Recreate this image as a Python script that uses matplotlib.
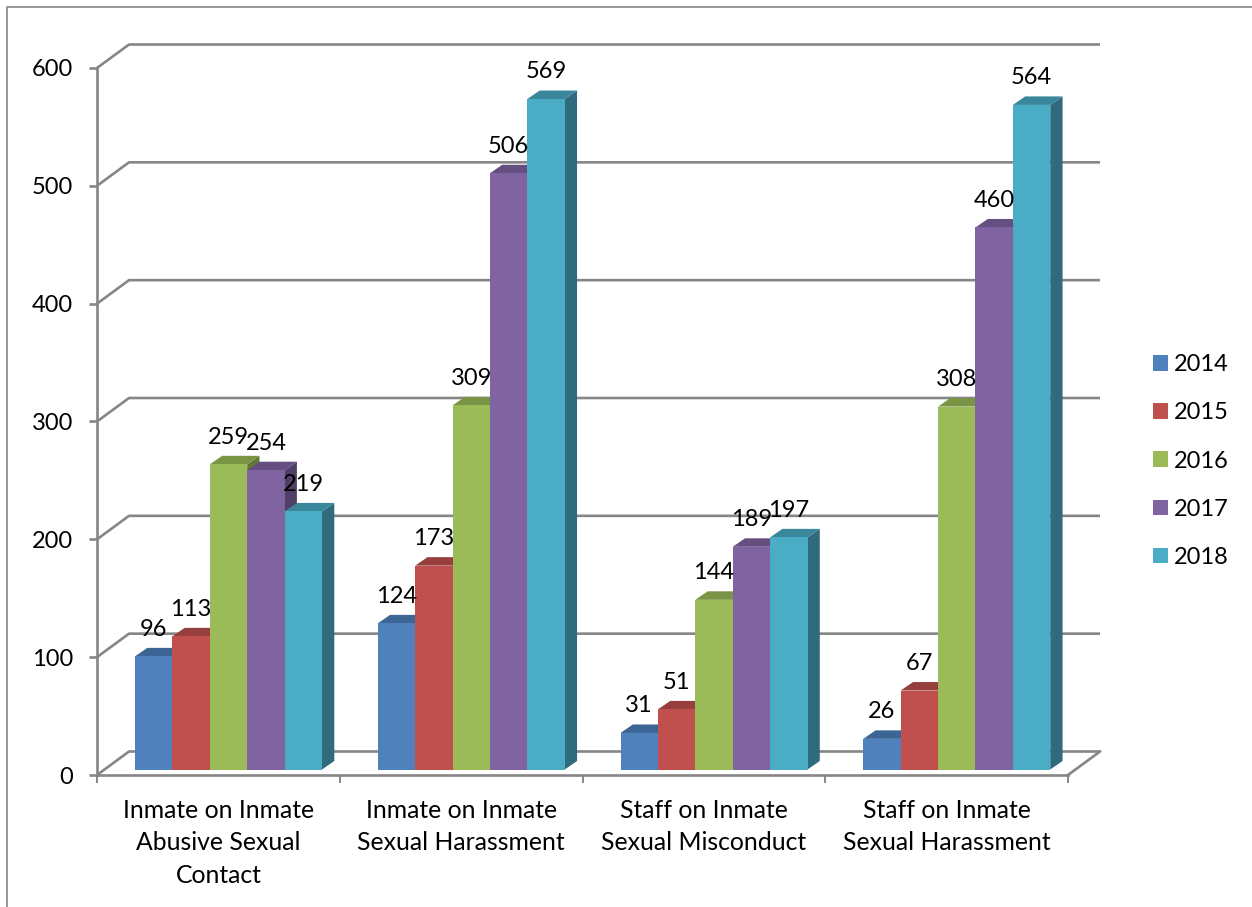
import matplotlib
matplotlib.use('Agg')
import matplotlib.pyplot as plt
from matplotlib.lines import Line2D
from matplotlib.patches import Polygon

plt.rcParams['font.family'] = ['Lato', 'DejaVu Sans']

categories = ['Inmate on Inmate\nAbusive Sexual\nContact',
              'Inmate on Inmate\nSexual Harassment',
              'Staff on Inmate\nSexual Misconduct',
              'Staff on Inmate\nSexual Harassment']
years = ['2014', '2015', '2016', '2017', '2018']
v2014 = [96, 124, 31, 26]
v2015 = [113, 173, 51, 67]
v2016 = [259, 309, 144, 308]
v2017 = [254, 506, 189, 460]
v2018 = [219, 569, 197, 564]
series = [v2014, v2015, v2016, v2017, v2018]
y_ticks = [0, 100, 200, 300, 400, 500, 600]

front = ['#4F81BD', '#C0504D', '#9BBB59', '#8064A2', '#4BACC6']
top = ['#3C6596', '#963F3C', '#7A9446', '#654F80', '#3A879C']
side = ['#325078', '#78322F', '#617638', '#503F66', '#2F6B7C']
grey = '#868686'

W, H = 1252, 907
fig = plt.figure(figsize=(W / 100, H / 100), dpi=100)
# pixel box of the front plane of the axes
ax = fig.add_axes([97 / W, 1 - 775 / H, 971 / W, 707 / H])
ax.set_xlim(0, 4)
ax.set_ylim(0, 600)

# pixel sizes in data units
px_x = 4 / 971
px_y = 600 / 707

# outer frame of the chart area, only left and top show
fig.add_artist(Line2D([6.5 / W, 6.5 / W, 1], [0, 1 - 6.5 / H, 1 - 6.5 / H], color=grey, lw=1.2))

# back wall and floor
wall_x = 32 * px_x
wall_y = 23.5 * px_y
for t in y_ticks:
    ax.plot([0, wall_x, 4 + wall_x], [t, t + wall_y, t + wall_y], color=grey, lw=1.9,
            clip_on=False, zorder=1, solid_capstyle='butt')
ax.plot([4, 4 + wall_x], [0, wall_y], color=grey, lw=1.9, clip_on=False, zorder=1)

# bars with fake 3d faces
bar_w = 37.4 * px_x
base = 5.5 * px_y
first = 38 * px_x
depth_x = 12.3 * px_x
depth_y = 8.5 * px_y
z = 3
for i, vals in enumerate(series):
    for j, v in enumerate(vals):
        x0 = j + first + i * bar_w
        x1 = x0 + bar_w
        y0 = base
        y1 = base + v
        ax.add_patch(Polygon([(x1, y0), (x1 + depth_x, y0 + depth_y), (x1 + depth_x, y1 + depth_y), (x1, y1)],
                             fc=side[i], ec='none', zorder=z, clip_on=False))
        ax.add_patch(Polygon([(x0, y1), (x1, y1), (x1 + depth_x, y1 + depth_y), (x0 + depth_x, y1 + depth_y)],
                             fc=top[i], ec='none', zorder=z, clip_on=False))
    xs = [j + first + i * bar_w for j in range(len(vals))]
    ax.bar(xs, vals, width=bar_w, bottom=base, align='edge', color=front[i], label=years[i],
           zorder=z + 1, clip_on=False)
    for x, v in zip(xs, vals):
        ax.annotate(str(v), (x + bar_w / 2, base + v), xytext=(0, 19.5), textcoords='offset points',
                    ha='center', va='center', fontsize=17, color='black', zorder=20)
    z += 2

for s in ['top', 'right']:
    ax.spines[s].set_visible(False)
for s in ['left', 'bottom']:
    ax.spines[s].set_color(grey)
    ax.spines[s].set_linewidth(1.9)

ax.set_yticks(y_ticks)
ax.tick_params(axis='y', length=5.8, width=1.9, color=grey, pad=11.5, labelsize=17)
ax.set_xticks([0, 1, 2, 3, 4])
ax.set_xticklabels([])
ax.set_xticks([0.5, 1.5, 2.5, 3.5], labels=categories, minor=True, linespacing=1.5)
ax.tick_params(axis='x', which='major', length=5.8, width=1.4, color=grey)
ax.tick_params(axis='x', which='minor', length=0, pad=17, labelsize=17.8)

ax.legend(loc='center left', bbox_to_anchor=(1153 / W, 1 - 461 / H), bbox_transform=fig.transFigure,
          frameon=False, fontsize=17, handlelength=0.63, handleheight=0.63, handletextpad=0.25,
          labelspacing=1.15, borderpad=0, borderaxespad=0)

fig.savefig('out.png', dpi=100)
